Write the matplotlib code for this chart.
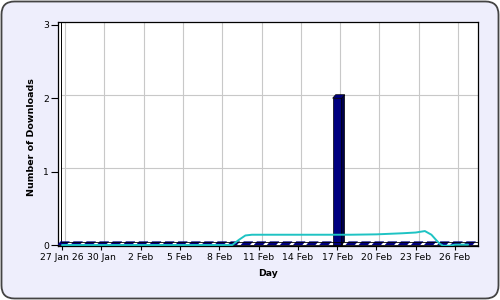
import numpy as np
import matplotlib.pyplot as plt
from matplotlib.patches import Polygon, FancyBboxPatch

# daily downloads, 27 Jan .. 27 Feb
days = np.arange(32)
downloads = [0, 0, 0, 0, 0, 0, 0, 0, 0, 0, 0, 0, 0, 0, 0, 0,
             0, 0, 0, 0, 0, 2, 0, 0, 0, 0, 0, 0, 0, 0, 0, 0]

# smoothed trend line
trend_x = [0, 13, 13.5, 14, 14.5, 22, 24, 26, 27, 27.7, 28.2, 28.6, 28.85, 29.1, 29.6, 30, 31]
trend_y = [0, 0, 0.07, 0.13, 0.14, 0.14, 0.145, 0.16, 0.17, 0.19, 0.14, 0.06, 0.015, -0.01, -0.01, 0.005, 0.005]

tick_days = [0, 3, 6, 9, 12, 15, 18, 21, 24, 27, 30]
tick_labels = ['27 Jan 26', '30 Jan', '2 Feb', '5 Feb', '8 Feb', '11 Feb',
               '14 Feb', '17 Feb', '20 Feb', '23 Feb', '26 Feb']
y_ticks = [0, 1, 2, 3]

W, H = 500, 300
fig = plt.figure(figsize=(5, 3), dpi=100, facecolor='white')

# rounded lavender background
bg = fig.add_axes([0, 0, 1, 1], zorder=-10)
bg.set_xlim(0, W)
bg.set_ylim(0, H)
bg.axis('off')
bg.add_patch(FancyBboxPatch((1.5, 1.5), W - 3, H - 3,
                            boxstyle='round,pad=0,rounding_size=13',
                            facecolor='#EEEEFC', edgecolor='#444444', linewidth=1.3))

# plot area in pixels
left, right, top, bottom = 58, 478, 22, 246
ax = fig.add_axes([left / W, (H - bottom) / H, (right - left) / W, (bottom - top) / H])
ax.set_facecolor('white')

px_day = 13.1
px_unit = 73.5
x0 = -4 / px_day
x1 = (right - 62) / px_day
ax.set_xlim(x0, x1)
ax.set_ylim(-1 / px_unit, 3 + 2.8 / px_unit)

dx = 3 / px_day
dy = 3.5 / px_unit
grid_c = '#C8C8C8'

# back wall grid (offset for 3d look)
for t in tick_days:
    ax.plot([t + dx, t + dx], [dy, 3.2], color=grid_c, lw=0.8, zorder=1)
for v in y_ticks[1:]:
    ax.plot([x0 + dx, x1], [v + dy, v + dy], color=grid_c, lw=0.8, zorder=1)
ax.plot([x0 + dx, x0 + dx], [dy, 3.2], color='black', lw=0.7, zorder=1)

# 3d bars
w = 0.68
for d, h in zip(days, downloads):
    lw = 0.5 if h > 0 else 0.2
    front = Polygon([(d - w / 2, 0), (d + w / 2, 0), (d + w / 2, h), (d - w / 2, h)],
                    closed=True, facecolor='#000080', edgecolor='black', lw=lw, zorder=3)
    side = Polygon([(d + w / 2, 0), (d + w / 2 + dx, dy), (d + w / 2 + dx, h + dy), (d + w / 2, h)],
                   closed=True, facecolor='#00004A', edgecolor='black', lw=lw, zorder=3)
    topf = Polygon([(d - w / 2, h), (d + w / 2, h), (d + w / 2 + dx, h + dy), (d - w / 2 + dx, h + dy)],
                   closed=True, facecolor='#000080', edgecolor='#000080' if h == 0 else 'black',
                   lw=lw, zorder=3)
    for p in ((topf,) if h == 0 else (front, side, topf)):
        ax.add_patch(p)

# floor edges
ax.plot([x0, x1], [0, 0], color='black', lw=0.6, zorder=4)
ax.plot([x0 + dx, x1], [dy, dy], color='black', lw=0.6, zorder=4)

ax.plot(trend_x, trend_y, color='#1EC3C3', lw=1.4, zorder=5, solid_capstyle='round')

for s in ax.spines.values():
    s.set_color('black')
    s.set_linewidth(0.9)

ax.set_xticks(tick_days)
ax.set_xticklabels(tick_labels)
ax.set_yticks(y_ticks)
ax.tick_params(axis='x', direction='out', length=3, width=0.8, pad=2, labelsize=6.7, colors='black')
ax.tick_params(axis='y', direction='out', length=5, width=0.8, pad=1.5, labelsize=6.7, colors='black')

fig.text((left + right) / 2 / W, 1 - 273 / H, 'Day', ha='center', va='center',
         fontsize=6.7, fontweight='bold')
fig.text(31.5 / W, 1 - 137 / H, 'Number of Downloads', ha='center', va='center',
         rotation=90, fontsize=6.8, fontweight='bold')

fig.savefig('out.png', dpi=100, facecolor='white')
